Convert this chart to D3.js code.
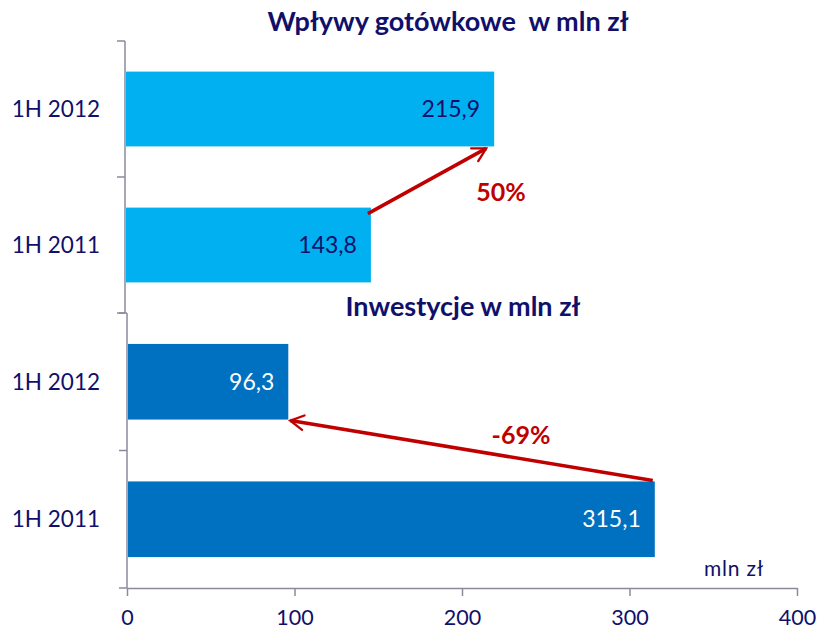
<!DOCTYPE html>
<html>
<head>
<meta charset="utf-8">
<script src="https://cdn.jsdelivr.net/npm/d3@7"></script>
<style>
  body { margin: 0; background: #fff; }
  text { font-family: Lato, "Open Sans", sans-serif; }
</style>
</head>
<body>
<div id="chart"></div>
<script>
'use strict';

// data
var cashTitle = 'Wpływy gotówkowe  w mln zł';
var cashCategories = ['1H 2012', '1H 2011'];
var cashValues = [215.9, 143.8];
var cashChange = '50%';

var invTitle = 'Inwestycje w mln zł';
var invCategories = ['1H 2012', '1H 2011'];
var invValues = [96.3, 315.1];
var invChange = '-69%';

var xTicks = [0, 100, 200, 300, 400];
var unitLabel = 'mln zł';

var width = 821,
    height = 636;

var navy = '#10106b',
    axisColor = '#8a8a9c',
    red = '#c00000';

var svg = d3.select('#chart').append('svg')
    .attr('width', width)
    .attr('height', height);

svg.append('defs').append('marker')
    .attr('id', 'head')
    .attr('viewBox', '0 0 12 12')
    .attr('refX', 10).attr('refY', 6)
    .attr('markerWidth', 5).attr('markerHeight', 5)
    .attr('markerUnits', 'strokeWidth')
    .attr('orient', 'auto')
    .append('path')
    .attr('d', 'M1,1 L10,6 L1,11')
    .attr('fill', 'none')
    .attr('stroke', red)
    .attr('stroke-width', 1.6)
    .attr('stroke-linecap', 'round');

// bottom chart has the visible value axis, top chart is a separate one with own scale
var x = d3.scaleLinear().domain([0, 400]).range([127, 797]);
var xTop = d3.scaleLinear().domain([0, 400]).range([125, 809]);

var yTop = d3.scaleBand().domain(cashCategories).range([41, 313])
    .paddingInner(0.45).paddingOuter(0.225);
var yBot = d3.scaleBand().domain(invCategories).range([313, 588])
    .paddingInner(0.45).paddingOuter(0.225);

function drawPanel(cats, vals, xs, ys, color, labelColor) {
    var g = svg.append('g');
    var x0 = xs(0);

    // category axis, ticks sit between the bands
    var r = ys.range();
    g.append('line')
        .attr('x1', x0).attr('x2', x0)
        .attr('y1', r[0]).attr('y2', r[1])
        .attr('stroke', axisColor).attr('stroke-width', 1.5);
    var bounds = [r[0], (r[0] + r[1]) / 2, r[1]];
    g.selectAll('.tk').data(bounds).enter().append('line')
        .attr('x1', x0 - 8).attr('x2', x0)
        .attr('y1', function(d) { return d; }).attr('y2', function(d) { return d; })
        .attr('stroke', axisColor).attr('stroke-width', 1.5);

    g.selectAll('.cat').data(cats).enter().append('text')
        .attr('x', 100)
        .attr('y', function(d) { return ys(d) + ys.bandwidth() / 2; })
        .attr('dy', '0.35em')
        .attr('text-anchor', 'end')
        .attr('fill', navy)
        .style('font-size', '22.5px')
        .text(function(d) { return d; });

    g.selectAll('.bar').data(cats).enter().append('rect')
        .attr('x', x0 + 1)
        .attr('y', function(d) { return ys(d); })
        .attr('width', function(d, i) { return xs(vals[i]) - x0 - 1; })
        .attr('height', ys.bandwidth())
        .attr('fill', color);

    g.selectAll('.val').data(cats).enter().append('text')
        .attr('x', function(d, i) { return xs(vals[i]) - 14; })
        .attr('y', function(d) { return ys(d) + ys.bandwidth() / 2; })
        .attr('dy', '0.35em')
        .attr('text-anchor', 'end')
        .attr('fill', labelColor)
        .style('font-size', '23px')
        .text(function(d, i) { return String(vals[i]).replace('.', ','); });
}

drawPanel(cashCategories, cashValues, xTop, yTop, '#00b0f0', navy);
drawPanel(invCategories, invValues, x, yBot, '#0070c0', '#ffffff');

// value axis
var xAxis = svg.append('g')
    .attr('transform', 'translate(0,588)')
    .call(d3.axisBottom(x).tickValues(xTicks).tickSize(8).tickSizeOuter(0).tickPadding(14));
xAxis.select('.domain').attr('stroke', axisColor).attr('stroke-width', 1.5);
xAxis.selectAll('.tick line').attr('stroke', axisColor).attr('stroke-width', 1.5);
xAxis.selectAll('.tick text')
    .attr('fill', navy)
    .style('font-size', '21.5px')
    .style('font-family', 'Lato, sans-serif');

svg.append('text')
    .attr('x', 764).attr('y', 576)
    .attr('text-anchor', 'end')
    .attr('fill', navy)
    .style('font-size', '21px')
    .style('letter-spacing', '0.8px')
    .text(unitLabel);

// titles
svg.append('text')
    .attr('x', 448).attr('y', 31)
    .attr('text-anchor', 'middle')
    .attr('fill', navy)
    .style('font-size', '27px').style('font-weight', 'bold')
    .style('white-space', 'pre')
    .attr('xml:space', 'preserve')
    .text(cashTitle);

svg.append('text')
    .attr('x', 463).attr('y', 316)
    .attr('text-anchor', 'middle')
    .attr('fill', navy)
    .style('font-size', '27px').style('font-weight', 'bold')
    .text(invTitle);

// change arrows
function arrow(x1, y1, x2, y2) {
    svg.append('line')
        .attr('x1', x1).attr('y1', y1)
        .attr('x2', x2).attr('y2', y2)
        .attr('stroke', red)
        .attr('stroke-width', 3.5)
        .attr('marker-end', 'url(#head)');
}

arrow(xTop(cashValues[1]) - 3, yTop(cashCategories[1]) + 6,
      xTop(cashValues[0]) - 8, yTop(cashCategories[0]) + yTop.bandwidth() + 2);
arrow(x(invValues[1]) - 2, yBot(invCategories[1]) - 1,
      x(invValues[0]) + 2, yBot(invCategories[0]) + yBot.bandwidth() + 1);

svg.append('text')
    .attr('x', 501).attr('y', 192)
    .attr('dy', '0.35em')
    .attr('text-anchor', 'middle')
    .attr('fill', red)
    .style('font-size', '25px').style('font-weight', 'bold')
    .text(cashChange);

svg.append('text')
    .attr('x', 521).attr('y', 435)
    .attr('dy', '0.35em')
    .attr('text-anchor', 'middle')
    .attr('fill', red)
    .style('font-size', '25px').style('font-weight', 'bold')
    .text(invChange);
</script>
</body>
</html>
